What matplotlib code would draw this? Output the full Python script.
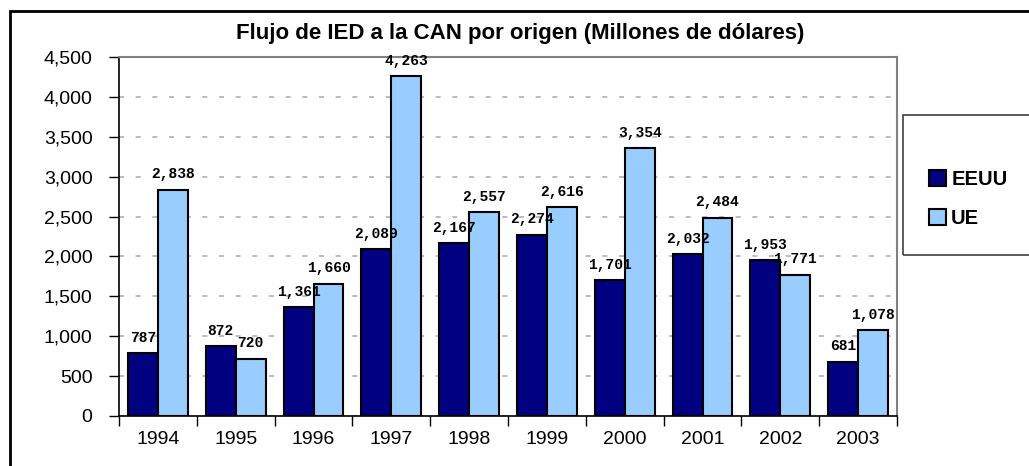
import matplotlib
matplotlib.use('Agg')
import matplotlib.pyplot as plt
import numpy as np
from matplotlib.patches import Rectangle
from matplotlib.ticker import FuncFormatter, MultipleLocator, FixedLocator

# ── data ────────────────────────────────────────────────────────────────
years = ["1994", "1995", "1996", "1997", "1998",
         "1999", "2000", "2001", "2002", "2003"]
eeuu = [787, 872, 1361, 2089, 2167, 2274, 1701, 2032, 1953, 681]
ue   = [2838, 720, 1660, 4263, 2557, 2616, 3354, 2484, 1771, 1078]

TITLE = "Flujo de IED a la CAN por origen (Millones de dólares)"
COL_EEUU = "#000080"
COL_UE   = "#99CCFF"
# ────────────────────────────────────────────────────────────────────────

plt.rcParams['font.family'] = ['Liberation Sans', 'DejaVu Sans']

W, H = 1029, 466
fig = plt.figure(figsize=(W / 100, H / 100), dpi=100)

# outer chart border (runs off the right/bottom edge like the original)
fig.patches.append(Rectangle((10 / W, -0.1), 1.2, 1 - 11 / H + 0.1,
                             transform=fig.transFigure, fill=False,
                             edgecolor="black", linewidth=2))

ax = fig.add_axes([119 / W, 1 - 416 / H, (897 - 119) / W, (416 - 57) / H])

x = np.arange(len(years))
w = 0.385
b1 = ax.bar(x - w / 2, eeuu, w, color=COL_EEUU, edgecolor="black",
            linewidth=1.5, label="EEUU", zorder=3)
b2 = ax.bar(x + w / 2, ue, w, color=COL_UE, edgecolor="black",
            linewidth=1.5, label="UE", zorder=3)

for bars, vals in ((b1, eeuu), (b2, ue)):
    for rect, v in zip(bars, vals):
        ax.annotate(f"{v:,}", (rect.get_x() + rect.get_width() / 2, v),
                    xytext=(0, 6), textcoords="offset points",
                    ha="center", va="bottom", fontsize=10.5,
                    fontweight="bold", family="Liberation Mono", zorder=4)

ax.set_xlim(-0.5, len(years) - 0.5)
ax.set_ylim(0, 4500)
ax.yaxis.set_major_locator(MultipleLocator(500))
ax.yaxis.set_major_formatter(FuncFormatter(lambda v, p: f"{int(v):,}"))
ax.grid(axis="y", color="#b0b0b0", linestyle=(0, (3, 7)), linewidth=1.2,
        zorder=0)

ax.xaxis.set_major_locator(FixedLocator(np.arange(-0.5, len(years), 1.0)))
ax.xaxis.set_minor_locator(FixedLocator(x))
ax.set_xticklabels([])
ax.set_xticklabels(years, minor=True)
ax.tick_params(axis="x", which="major", length=7, width=1, direction="out")
ax.tick_params(axis="x", which="minor", length=0, pad=11, labelsize=14)
ax.tick_params(axis="y", length=7, width=1, direction="out", labelsize=14,
               pad=12)

for side in ("top", "right"):
    ax.spines[side].set_color("#808080")
    ax.spines[side].set_linewidth(1.5)
ax.spines["left"].set_linewidth(1.2)
ax.spines["bottom"].set_linewidth(1.2)

fig.text(520 / W, 1 - 33 / H, TITLE, ha="center", va="center",
         fontsize=16, fontweight="bold")

# legend frame, also running off the right edge
fig.patches.append(Rectangle((903 / W, 1 - 255 / H), 0.2, 140 / H,
                             transform=fig.transFigure, fill=False,
                             edgecolor="#404040", linewidth=1.2))
leg = fig.legend(handles=[b1, b2], loc="upper left",
                 bbox_to_anchor=(929 / W, 1 - 170 / H),
                 frameon=False, prop={"weight": "bold", "size": 14.5},
                 handlelength=0.85, handleheight=0.85, handletextpad=0.25,
                 labelspacing=1.0, borderpad=0, borderaxespad=0)

fig.savefig("out.png", dpi=100)
